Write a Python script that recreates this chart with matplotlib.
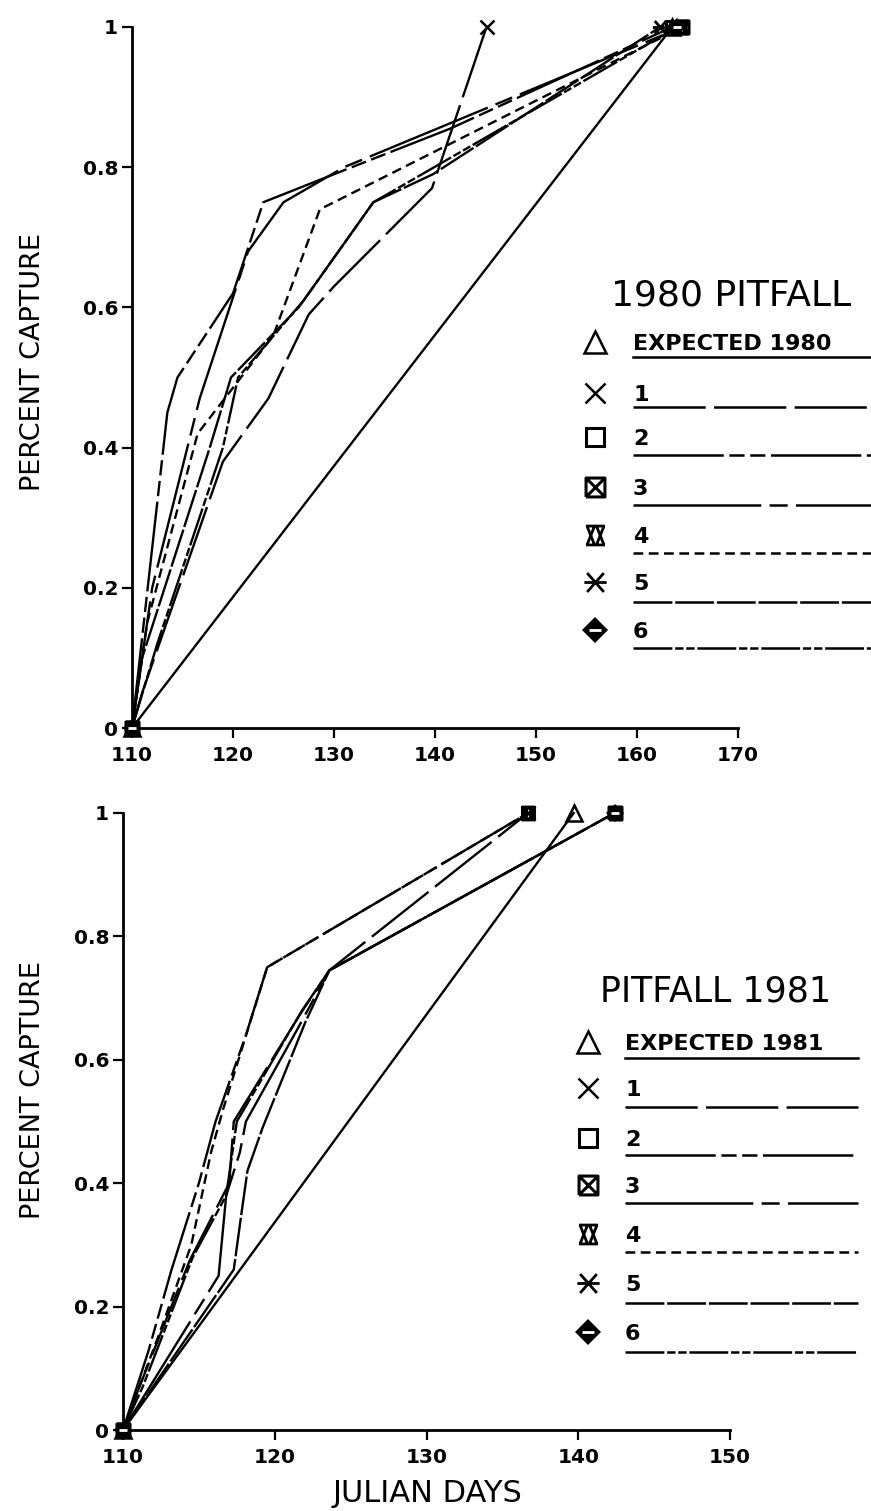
import matplotlib
matplotlib.use("Agg")
import matplotlib.pyplot as plt
from matplotlib.path import Path

plt.rcParams['font.family'] = 'DejaVu Sans'
plt.rcParams['lines.scale_dashes'] = False

# ---- 1980 pitfall: cumulative proportion captured by Julian day ----
days_exp80 = [110, 163.5]
cap_exp80 = [0, 1.0]
days80_1 = [110, 111, 119, 123.5, 127.5, 130, 139.7, 145.1]
cap80_1 = [0, 0.05, 0.38, 0.47, 0.59, 0.63, 0.77, 1.0]
days80_2 = [110, 113.5, 114.5, 120, 123, 130, 141.5, 163.5]
cap80_2 = [0, 0.45, 0.50, 0.62, 0.75, 0.79, 0.855, 1.0]
days80_3 = [110, 112, 116.7, 121.5, 125, 131, 164.5]
cap80_3 = [0, 0.20, 0.47, 0.68, 0.75, 0.80, 1.0]
days80_4 = [110, 111.5, 116.5, 124, 128.6, 130, 164.5]
cap80_4 = [0, 0.15, 0.42, 0.56, 0.74, 0.75, 1.0]
days80_5 = [110, 111, 117.7, 119.8, 126.5, 133.9, 139.8, 162.3]
cap80_5 = [0, 0.10, 0.40, 0.50, 0.60, 0.75, 0.79, 1.0]
days80_6 = [110, 112.5, 119, 120.5, 127, 133.9, 164]
cap80_6 = [0, 0.12, 0.40, 0.50, 0.61, 0.75, 1.0]

# ---- 1981 pitfall ----
days_exp81 = [110, 139.7]
cap_exp81 = [0, 1.0]
days81_1 = [110, 111, 114.4, 117, 117.3, 121.7, 123.6, 136.7]
cap81_1 = [0, 0.065, 0.275, 0.40, 0.50, 0.675, 0.745, 1.0]
days81_2 = [110, 111.7, 113.2, 115, 116.1, 118.1, 119.5, 136.7]
cap81_2 = [0, 0.13, 0.26, 0.40, 0.50, 0.64, 0.75, 1.0]
days81_3 = [110, 116.3, 116.8, 117.7, 118.1, 121.5, 123.6, 142.4]
cap81_3 = [0, 0.25, 0.38, 0.45, 0.50, 0.65, 0.745, 1.0]
days81_4 = [110, 112.3, 114.5, 115.8, 116.6, 119.5, 136.7]
cap81_4 = [0, 0.15, 0.30, 0.45, 0.52, 0.75, 1.0]
days81_5 = [110, 117.3, 117.8, 118.2, 119.2, 122, 123.6, 142.4]
cap81_5 = [0, 0.26, 0.35, 0.42, 0.49, 0.66, 0.745, 1.0]
days81_6 = [110, 111.3, 114.6, 116.8, 117.5, 121.8, 123.6, 142.4]
cap81_6 = [0, 0.07, 0.28, 0.38, 0.50, 0.68, 0.745, 1.0]

labels80 = ['EXPECTED 1980', '1', '2', '3', '4', '5', '6']
labels81 = ['EXPECTED 1981', '1', '2', '3', '4', '5', '6']
y_ticks = [0, 0.2, 0.4, 0.6, 0.8, 1]
x_ticks80 = [110, 120, 130, 140, 150, 160, 170]
x_ticks81 = [110, 120, 130, 140, 150]


def stroke_marker(segments):
    verts, codes = [], []
    for seg in segments:
        for i, p in enumerate(seg):
            verts.append(p)
            codes.append(Path.MOVETO if i == 0 else Path.LINETO)
    return Path(verts, codes)


BOXED_X = stroke_marker([[(-1, -1), (1, -1), (1, 1), (-1, 1), (-1, -1)],
                         [(-1, -1), (1, 1)], [(-1, 1), (1, -1)]])
HOURGLASS = stroke_marker([[(-1, 1), (1, 1)], [(-1, -1), (1, -1)],
                           [(-0.9, 1), (-0.1, -1)], [(-0.1, 1), (-0.9, -1)],
                           [(0.1, 1), (0.9, -1)], [(0.9, 1), (0.1, -1)]])
ASTERISK = stroke_marker([[(-1, 0), (1, 0)], [(-0.75, 0.85), (0.75, -0.85)],
                          [(-0.75, -0.85), (0.75, 0.85)]])

# line style and marker per series: expected, 1..6
STYLES = [
    ('-', 'tri'),
    ((0, (52, 6)), 'x'),
    ((0, (65, 4, 11, 4, 11, 4)), 'sq'),
    ((0, (92, 6, 13, 6)), 'boxx'),
    ((0, (7, 4)), 'hour'),
    ((0, (28, 2)), 'ast'),
    ((0, (28, 2, 6, 2, 6, 2)), 'dia'),
]


def draw_marker(ax, x, y, kind, size):
    kw = dict(color='k', linestyle='none', clip_on=False, zorder=5)
    if kind == 'tri':
        ax.plot(x, y, marker='^', ms=size, mfc='none', mew=1.8, **kw)
    elif kind == 'x':
        ax.plot(x, y, marker='x', ms=size * 0.9, mew=1.8, **kw)
    elif kind == 'sq':
        ax.plot(x, y, marker='s', ms=size * 0.85, mfc='none', mew=2.2, **kw)
    elif kind == 'boxx':
        ax.plot(x, y, marker=BOXED_X, ms=size * 0.85, mfc='none', mew=2.2, **kw)
    elif kind == 'hour':
        ax.plot(x, y, marker=HOURGLASS, ms=size * 0.85, mfc='none', mew=2.0, **kw)
    elif kind == 'ast':
        ax.plot(x, y, marker=ASTERISK, ms=size, mfc='none', mew=2.0, **kw)
    elif kind == 'dia':
        ax.plot(x, y, marker='D', ms=size * 0.8, mfc='k', mew=0, **kw)
        kw['color'] = 'w'
        kw['zorder'] = 6
        ax.plot(x, y, marker='_', ms=size * 0.55, mew=2.0, **kw)


def setup_axes(ax, xlim, xticks):
    ax.set_xlim(*xlim)
    ax.set_ylim(0, 1)
    ax.set_xticks(xticks)
    ax.set_yticks(y_ticks)
    ax.set_yticklabels(['0' if v == 0 else ('1' if v == 1 else f'{v:.1f}') for v in y_ticks])
    for side in ('top', 'right'):
        ax.spines[side].set_visible(False)
    for side in ('left', 'bottom'):
        ax.spines[side].set_linewidth(2.0)
    ax.tick_params(direction='out', length=7, width=1.6, labelsize=14.5)
    ax.tick_params(axis='x', pad=6)
    ax.tick_params(axis='y', pad=3)
    for lab in ax.get_xticklabels() + ax.get_yticklabels():
        lab.set_fontweight('bold')


def draw_panel(ax, series):
    for (x, y), (ls, mk) in zip(series, STYLES):
        ax.plot(x, y, color='k', lw=1.7, linestyle=ls, clip_on=False)
        draw_marker(ax, [x[0], x[-1]], [y[0], y[-1]], mk, 11)


def draw_key(ov, title, title_xy, title_size, labels, text_y, line_y, x_mark, x_text, x_end):
    ov.text(title_xy[0], title_xy[1], title, fontsize=title_size,
            ha='center', va='baseline')
    for lab, ty, ly, (ls, mk) in zip(labels, text_y, line_y, STYLES):
        draw_marker(ov, [x_mark], [ty], mk, 16)
        ov.text(x_text, ty + 8, lab, fontsize=16, fontweight='bold',
                ha='left', va='baseline')
        ov.plot([x_text, x_end], [ly, ly], color='k', lw=1.8, linestyle=ls,
                clip_on=False)


W, H = 871, 1511
fig = plt.figure(figsize=(W / 100, H / 100), dpi=100)

ax1 = fig.add_axes([132 / W, (H - 728) / H, (738 - 132) / W, (728 - 27) / H])
setup_axes(ax1, (110, 170), x_ticks80)
draw_panel(ax1, [(days_exp80, cap_exp80), (days80_1, cap80_1), (days80_2, cap80_2),
                 (days80_3, cap80_3), (days80_4, cap80_4), (days80_5, cap80_5),
                 (days80_6, cap80_6)])

ax2 = fig.add_axes([123 / W, (H - 1430) / H, (730 - 123) / W, (1430 - 813) / H])
setup_axes(ax2, (110, 150), x_ticks81)
draw_panel(ax2, [(days_exp81, cap_exp81), (days81_1, cap81_1), (days81_2, cap81_2),
                 (days81_3, cap81_3), (days81_4, cap81_4), (days81_5, cap81_5),
                 (days81_6, cap81_6)])

# overlay in pixel units for keys and axis titles
ov = fig.add_axes([0, 0, 1, 1])
ov.set_xlim(0, W)
ov.set_ylim(H, 0)
ov.axis('off')
ov.patch.set_visible(False)

draw_key(ov, '1980 PITFALL', (731, 305), 26, labels80,
         [342, 393, 437, 487, 535, 582, 630],
         [357, 407, 455, 505, 553, 602, 648], 595, 633, 871)
draw_key(ov, 'PITFALL 1981', (716, 1002), 25, labels81,
         [1042, 1088, 1138, 1185, 1234, 1283, 1332],
         [1058, 1107, 1155, 1203, 1252, 1303, 1352], 588, 625, 858)

ov.text(33, 362, 'PERCENT CAPTURE', fontsize=19.5, rotation=90,
        ha='center', va='center')
ov.text(33, 1090, 'PERCENT CAPTURE', fontsize=19.5, rotation=90,
        ha='center', va='center')
ov.text(427, 1493, 'JULIAN DAYS', fontsize=22, ha='center', va='center')

fig.savefig('out.png', dpi=100)
